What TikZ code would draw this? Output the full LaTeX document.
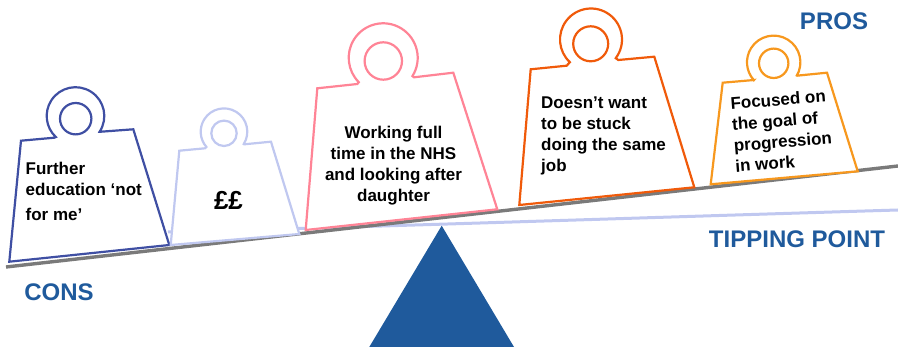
\documentclass[tikz,border=0pt]{standalone}
\usepackage{fontspec}
\setmainfont{Liberation Sans}
\usepackage{xcolor}
\definecolor{heading}{HTML}{1F5A9C}
\definecolor{navyw}{HTML}{3F4FA3}
\definecolor{lilacw}{HTML}{C0C8F0}
\definecolor{pinkw}{HTML}{FF8496}
\definecolor{orangew}{HTML}{F05A0A}
\definecolor{ambew}{HTML}{F7981E}
\begin{document}
\begin{tikzpicture}[x=1pt, y=-1pt, font=\bfseries]
    \tikzstyle{weight}=[line width=2.2pt, fill=white, line join=miter]
    \tikzstyle{label}=[inner sep=0pt, align=left, text=black, font=\fontsize{17}{21}\selectfont\bfseries]
    \tikzstyle{title}=[inner sep=0pt, text=heading, font=\fontsize{24}{26}\selectfont\bfseries]
    \useasboundingbox (0,0) rectangle (898,347);

    \coordinate (tipL) at (168,232);
    \coordinate (tipR) at (898,210);
    \coordinate (beamL) at (6,267);
    \coordinate (beamR) at (898,166);

    \draw[line width=3pt, lilacw] (tipL) .. controls (400,226) and (600,219) .. (tipR);
    \draw[line width=3.4pt, black!52] (beamL) -- (beamR);
    \fill[heading] (441.7,225.7) -- (514,347) -- (369.3,347) -- cycle;

    % weights, left to right
    \draw[weight, draw=navyw] (9.3,261.7) -- (169.3,245) -- (133.3,129.3) -- (101,131.7)
        -- ([shift={(75.5,116)}]33:28.8) arc[start angle=33, end angle=-227, radius=28.8]
        -- (54.3,137.7) -- (21,140.7) -- cycle;
    \draw[weight, draw=navyw] (75.7,118.7) circle (15.7);

    \draw[weight, draw=lilacw] (170.7,245) -- (299.3,234) -- (271,141.7) -- (244.3,144.3)
        -- ([shift={(224,131.7)}]32:23.3) arc[start angle=32, end angle=-221, radius=23.3]
        -- (205,148.3) -- (179.3,150.7) -- cycle;
    \draw[weight, draw=lilacw] (224,133.3) circle (12.7);

    \draw[weight, draw=pinkw] (305.7,230) -- (497.3,209.3) -- (453.3,72.7) -- (414,77.3)
        -- ([shift={(383.2,57.8)}]32:34.5) arc[start angle=32, end angle=-225, radius=34.5]
        -- (357.3,84) -- (317.3,88.3) -- cycle;
    \draw[weight, draw=pinkw] (383.3,61) circle (18.7);

    \draw[weight, draw=orangew] (519.3,205) -- (694.3,187.3) -- (654.3,56.7) -- (618.3,60)
        -- ([shift={(591,39.5)}]37:31) arc[start angle=37, end angle=-227, radius=31]
        -- (566.7,65.7) -- (530.7,69.3) -- cycle;
    \draw[weight, draw=orangew] (590.7,43.8) circle (17.5);

    \draw[weight, draw=ambew] (710.7,184.3) -- (857.7,171.3) -- (827,72.7) -- (796.7,75.7)
        -- ([shift={(773.7,62.3)}]32:26.7) arc[start angle=32, end angle=-222, radius=26.7]
        -- (754,80) -- (722.7,82.7) -- cycle;
    \draw[weight, draw=ambew] (773.7,63.3) circle (14.7);

    \node[label, anchor=north west] (further) at (25.5,162) {Further\\education ‘not\\[4pt]for me’};
    \node[label, font=\fontsize{26}{28}\selectfont\bfseries] (money) at (228.5,200) {££};
    \node[label, align=center] (working) at (393.5,165.5) {Working full\\time in the NHS\\and looking after\\daughter};
    \node[label, anchor=north west] (stuck) at (541,97) {Doesn’t want\\to be stuck\\doing the same\\job};
    \node[label, rotate=4.5] (focused) at (782,131) {Focused on\\the goal of\\progression\\in work};

    \node[title] (pros) at (834,21) {PROS};
    \node[title] (cons) at (59,292) {CONS};
    \node[title] (tipping) at (797,239) {TIPPING POINT};
\end{tikzpicture}
\end{document}
